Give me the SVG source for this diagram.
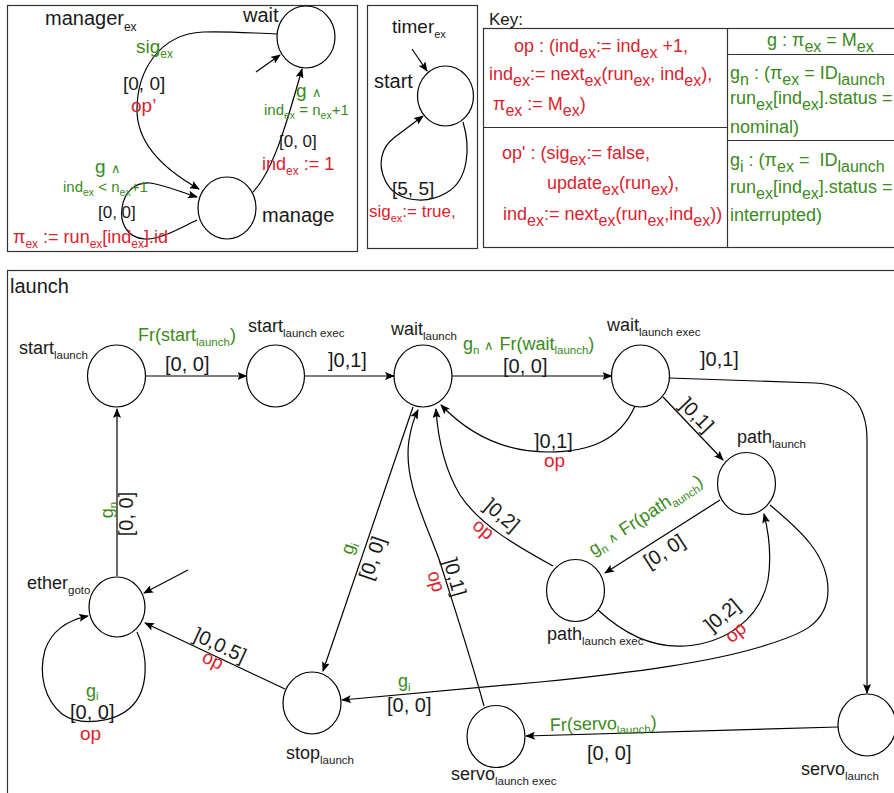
<svg xmlns="http://www.w3.org/2000/svg" width="894" height="793" viewBox="0 0 894 793">
<defs>
<style>
text{font-family:"Liberation Sans",Arial,Helvetica,sans-serif;fill:#1a1a1a}
.g{fill:#3b8a1c}
.r{fill:#d9232e}
.box{fill:none;stroke:#333;stroke-width:1.2}
.st{fill:#fff;stroke:#000;stroke-width:1.2}
.e{fill:none;stroke:#000;stroke-width:1.2}
.a{marker-end:url(#ah)}
</style>
<marker id="ah" viewBox="0 0 10 8" refX="9" refY="4" markerWidth="10" markerHeight="8" markerUnits="userSpaceOnUse" orient="auto"><path d="M0,0 L10,4 L0,8 L2,4 z" fill="#000"/></marker>
</defs>
<rect width="894" height="793" fill="#fff"/>

<!-- panels -->
<g id="panels">
<rect class="box" x="7.5" y="5.5" width="350" height="246"/>
<rect class="box" x="367.5" y="5.5" width="110" height="243"/>
<rect class="box" x="483.5" y="28.5" width="430" height="219"/>
<line class="box" x1="727.5" y1="28.5" x2="727.5" y2="247.5"/>
<line class="box" x1="483.5" y1="127.5" x2="727.5" y2="127.5"/>
<line class="box" x1="727.5" y1="54.5" x2="900" y2="54.5"/>
<line class="box" x1="727.5" y1="140.5" x2="900" y2="140.5"/>
<rect class="box" x="7.5" y="270.5" width="900" height="600"/>
</g>

<!-- manager_ex -->
<g id="manager-title"><text x="45" y="25" font-size="20">manager<tspan font-size="12" dy="6">ex</tspan></text></g>
<g id="m-wait"><ellipse class="st" cx="306" cy="37" rx="29" ry="31"/><text x="243" y="22" font-size="20">wait</text></g>
<g id="m-manage"><ellipse class="st" cx="227" cy="208" rx="29" ry="31"/><text x="262" y="222" font-size="20">manage</text></g>
<g id="m-edges">
<path class="e a" d="M277 34 C250 33 225 31 203 32 C160 34 137 70 137 110 C137 145 165 170 199 189"/>
<path class="e a" d="M253 192 C272 172 285 130 302 69"/>
<path class="e a" d="M197 220 C180 228 160 240 145 239 C125 238 120 220 122 208 C124 192 135 182 150 183 C165 185 180 192 197 197"/>
<path class="e a" d="M256 72 L280 55"/>
<text class="g" x="136" y="53" font-size="19">sig<tspan font-size="12" dy="5">ex</tspan></text>
<text x="123" y="90" font-size="19">[0, 0]</text>
<text class="r" x="131" y="112" font-size="19">op’</text>
<text class="g" x="296" y="97" font-size="19">g <tspan font-size="13">∧</tspan></text>
<text class="g" x="264" y="115" font-size="15">ind<tspan font-size="10.5" dy="4">ex</tspan><tspan dy="-4"> = n</tspan><tspan font-size="10.5" dy="4">ex</tspan><tspan dy="-4">+1</tspan></text>
<text x="279" y="147" font-size="17">[0, 0]</text>
<text class="r" x="262" y="170" font-size="18">ind<tspan font-size="12" dy="5">ex</tspan><tspan dy="-5"> := 1</tspan></text>
<text class="g" x="95" y="173" font-size="19">g <tspan font-size="13">∧</tspan></text>
<text class="g" x="63" y="192" font-size="15">ind<tspan font-size="10.5" dy="4">ex</tspan><tspan dy="-4"> &lt; n</tspan><tspan font-size="10.5" dy="4">ex</tspan><tspan dy="-4">+1</tspan></text>
<text x="98" y="218" font-size="17">[0, 0]</text>
<text class="r" x="13" y="243" font-size="18">π<tspan font-size="12" dy="5">ex</tspan><tspan dy="-5"> := run</tspan><tspan font-size="12" dy="5">ex</tspan><tspan dy="-5">[ind</tspan><tspan font-size="12" dy="5">ex</tspan><tspan dy="-5">].id</tspan></text>
</g>

<!-- timer_ex -->
<g id="timer-title"><text x="392" y="33" font-size="19">timer<tspan font-size="11" dy="5">ex</tspan></text></g>
<g id="t-start"><ellipse class="st" cx="445.5" cy="96" rx="28" ry="30"/><text x="374" y="88" font-size="20">start</text></g>
<g id="t-edges">
<path class="e a" d="M412 49 L427 71"/>
<path class="e a" d="M463 122 C470 145 470 180 446 193 C425 205 395 202 385 180 C378 165 380 148 395 137 L423 116"/>
<text x="392" y="195" font-size="19">[5, 5]</text>
<text class="r" x="369" y="217" font-size="17">sig<tspan font-size="11" dy="5">ex</tspan><tspan dy="-5">:= true,</tspan></text>
</g>

<!-- key -->
<g id="key">
<text x="489" y="25" font-size="17">Key:</text>
<text class="r" x="514" y="52" font-size="18">op : (ind<tspan font-size="16" dy="6">ex</tspan><tspan dy="-6">:= ind</tspan><tspan font-size="16" dy="6">ex</tspan><tspan dy="-6"> +1,</tspan></text>
<text class="r" x="489" y="80" font-size="18">ind<tspan font-size="16" dy="6">ex</tspan><tspan dy="-6">:= next</tspan><tspan font-size="16" dy="6">ex</tspan><tspan dy="-6">(run</tspan><tspan font-size="16" dy="6">ex</tspan><tspan dy="-6">, ind</tspan><tspan font-size="16" dy="6">ex</tspan><tspan dy="-6">),</tspan></text>
<text class="r" x="493" y="110" font-size="18">π<tspan font-size="16" dy="6">ex</tspan><tspan dy="-6"> := M</tspan><tspan font-size="16" dy="6">ex</tspan><tspan dy="-6">)</tspan></text>
<text class="r" x="502" y="159" font-size="18">op' : (sig<tspan font-size="16" dy="6">ex</tspan><tspan dy="-6">:= false,</tspan></text>
<text class="r" x="547" y="189" font-size="18">update<tspan font-size="16" dy="6">ex</tspan><tspan dy="-6">(run</tspan><tspan font-size="16" dy="6">ex</tspan><tspan dy="-6">),</tspan></text>
<text class="r" x="503" y="220" font-size="18">ind<tspan font-size="16" dy="6">ex</tspan><tspan dy="-6">:= next</tspan><tspan font-size="16" dy="6">ex</tspan><tspan dy="-6">(run</tspan><tspan font-size="16" dy="6">ex</tspan><tspan dy="-6">,ind</tspan><tspan font-size="16" dy="6">ex</tspan><tspan dy="-6">))</tspan></text>
<text class="g" x="767" y="46" font-size="18">g : π<tspan font-size="16" dy="6">ex</tspan><tspan dy="-6"> = M</tspan><tspan font-size="16" dy="6">ex</tspan></text>
<text class="g" x="730" y="79" font-size="18">g<tspan font-size="16" dy="6">n</tspan><tspan dy="-6"> : (π</tspan><tspan font-size="16" dy="6">ex</tspan><tspan dy="-6"> = ID</tspan><tspan font-size="16" dy="6">launch</tspan></text>
<text class="g" x="730" y="104" font-size="18">run<tspan font-size="16" dy="6">ex</tspan><tspan dy="-6">[ind</tspan><tspan font-size="16" dy="6">ex</tspan><tspan dy="-6">].status =</tspan></text>
<text class="g" x="730" y="133" font-size="18">nominal)</text>
<text class="g" x="730" y="166" font-size="18">g<tspan font-size="16" dy="6">i</tspan><tspan dy="-6"> : (π</tspan><tspan font-size="16" dy="6">ex</tspan><tspan dy="-6"> = &#160;ID</tspan><tspan font-size="16" dy="6">launch</tspan></text>
<text class="g" x="730" y="193" font-size="18">run<tspan font-size="16" dy="6">ex</tspan><tspan dy="-6">[ind</tspan><tspan font-size="16" dy="6">ex</tspan><tspan dy="-6">].status =</tspan></text>
<text class="g" x="730" y="221" font-size="18">interrupted)</text>
</g>

<!-- launch -->
<g id="launch-title"><text x="10" y="293" font-size="20">launch</text></g>

<g id="start_launch"><ellipse class="st" cx="116.5" cy="376" rx="29" ry="31"/><text x="19" y="354" font-size="18">start<tspan font-size="11.5" dy="5">launch</tspan></text></g>
<g id="start_launch_exec"><ellipse class="st" cx="275.5" cy="376" rx="29" ry="31"/><text x="248" y="332" font-size="18">start<tspan font-size="11.5" dy="5">launch exec</tspan></text></g>
<g id="wait_launch"><ellipse class="st" cx="423" cy="376" rx="29" ry="31"/><text x="391" y="335" font-size="18">wait<tspan font-size="11.5" dy="5">launch</tspan></text></g>
<g id="wait_launch_exec"><ellipse class="st" cx="640.5" cy="376" rx="29" ry="31"/><text x="607" y="331" font-size="18">wait<tspan font-size="11.5" dy="5">launch exec</tspan></text></g>
<g id="path_launch"><ellipse class="st" cx="746.5" cy="483.5" rx="29" ry="31"/><text x="737" y="443" font-size="18">path<tspan font-size="11.5" dy="5">launch</tspan></text></g>
<g id="path_launch_exec"><ellipse class="st" cx="575.5" cy="590.5" rx="29" ry="31"/><text x="547" y="640" font-size="18">path<tspan font-size="11.5" dy="5">launch exec</tspan></text></g>
<g id="servo_launch"><ellipse class="st" cx="867" cy="725" rx="29" ry="31"/><text x="801" y="775" font-size="18">servo<tspan font-size="11.5" dy="5">launch</tspan></text></g>
<g id="servo_launch_exec"><ellipse class="st" cx="496" cy="736.5" rx="29" ry="31"/><text x="451" y="780" font-size="18">servo<tspan font-size="11.5" dy="5">launch exec</tspan></text></g>
<g id="stop_launch"><ellipse class="st" cx="312" cy="703" rx="29" ry="31"/><text x="286" y="759" font-size="18">stop<tspan font-size="11.5" dy="5">launch</tspan></text></g>
<g id="ether_goto"><ellipse class="st" cx="117" cy="607" rx="28" ry="30"/><text x="27" y="589" font-size="18">ether<tspan font-size="11.5" dy="5">goto</tspan></text></g>

<g id="connectors">
<path class="e a" d="M145.5 376 L246.5 376"/>
<path class="e a" d="M304.5 376 L394 376"/>
<path class="e a" d="M452 376 L611.5 376"/>
<path class="e a" d="M635 406 C620 440 590 452 548 452 C500 452 465 430 441 405"/>
<path class="e a" d="M663 397 L723 460"/>
<path class="e a" d="M720 500 L605 573"/>
<path class="e a" d="M598 610 C625 635 655 648 685 646 C725 643 760 620 768 580 C772 555 768 530 764 514"/>
<path class="e a" d="M413 407 L323 671"/>
<path class="e a" d="M484 706 C470 655 455 610 440 562 C425 520 403 480 409 440 C411 428 414 418 418 410"/>
<path class="e a" d="M553 566 C515 545 480 525 460 495 C445 470 438 440 436 409"/>
<path class="e a" d="M669 378 L815 383 C850 385 867 405 867 440 L867 693"/>
<path class="e a" d="M770 505 C800 530 828 555 828 590 C828 625 800 635 760 647 C710 662 640 672 540 682 L342 700"/>
<path class="e a" d="M838 727 L526 736"/>
<path class="e a" d="M285 689 L145 623"/>
<path class="e a" d="M117 576 L117 409"/>
<path class="e a" d="M137 632 C148 655 150 690 130 708 C115 722 80 727 62 714 C45 700 38 675 45 650 C52 630 68 620 88 616"/>
<path class="e a" d="M188 570 L144 593"/>
</g>

<g id="edge-labels">
<text class="g" x="138" y="341" font-size="18">Fr(start<tspan font-size="11.5" dy="5">launch</tspan><tspan dy="-5">)</tspan></text>
<text x="165" y="371" font-size="20">[0, 0]</text>
<text x="328" y="367" font-size="20">]0,1]</text>
<text class="g" x="463" y="350" font-size="18">g<tspan font-size="11.5" dy="4">n</tspan><tspan dy="-4"> </tspan><tspan font-size="13">∧</tspan> Fr(wait<tspan font-size="11.5" dy="4">launch</tspan><tspan dy="-4">)</tspan></text>
<text x="503" y="373" font-size="20">[0, 0]</text>
<text x="534" y="448" font-size="20">]0,1]</text>
<text class="r" x="544" y="467" font-size="19">op</text>
<text x="700" y="366" font-size="20">]0,1]</text>
<text transform="translate(697,415) rotate(46)" text-anchor="middle" y="7" font-size="20">]0,1]</text>
<text class="g" transform="translate(646,516) rotate(-33)" text-anchor="middle" y="5" font-size="18">g<tspan font-size="11.5" dy="4">n</tspan><tspan dy="-4"> </tspan><tspan font-size="13">∧</tspan> Fr(path<tspan font-size="11.5" dy="4">aunch</tspan><tspan dy="-4">)</tspan></text>
<text transform="translate(664,551) rotate(-33)" text-anchor="middle" y="7" font-size="20">[0, 0]</text>
<text transform="translate(722,615) rotate(-40)" text-anchor="middle" y="7" font-size="20">]0,2]</text>
<text class="r" transform="translate(737,634) rotate(-40)" text-anchor="middle" y="4" font-size="19">op</text>
<text class="g" transform="translate(349,548) rotate(-71)" text-anchor="middle" y="5" font-size="18">g<tspan font-size="11.5" dy="4">i</tspan></text>
<text transform="translate(372,558) rotate(-71)" text-anchor="middle" y="7" font-size="20">[0, 0]</text>
<text transform="translate(455,577) rotate(74)" text-anchor="middle" y="7" font-size="20">]0,1]</text>
<text class="r" transform="translate(434,582) rotate(74)" text-anchor="middle" y="4" font-size="19">op</text>
<text transform="translate(502,515) rotate(40)" text-anchor="middle" y="7" font-size="20">]0,2]</text>
<text class="r" transform="translate(482,531) rotate(40)" text-anchor="middle" y="4" font-size="19">op</text>
<text class="g" x="398" y="687" font-size="18">g<tspan font-size="11.5" dy="4">i</tspan></text>
<text x="387" y="712" font-size="20">[0, 0]</text>
<text class="g" transform="translate(550,731) rotate(-1.6)" font-size="18">Fr(servo<tspan font-size="11.5" dy="5">launch</tspan><tspan dy="-5">)</tspan></text>
<text x="587" y="760" font-size="20">[0, 0]</text>
<text transform="translate(220,645) rotate(25)" text-anchor="middle" y="7" font-size="20">]0,0.5]</text>
<text class="r" transform="translate(212,662) rotate(25)" text-anchor="middle" y="4" font-size="19">op</text>
<text class="g" transform="translate(108,510) rotate(-90)" text-anchor="middle" y="5" font-size="18">g<tspan font-size="11.5" dy="4">n</tspan></text>
<text transform="translate(126,514) rotate(-90)" text-anchor="middle" y="7" font-size="20">[0, 0]</text>
<text class="g" x="86" y="697" font-size="18">g<tspan font-size="11.5" dy="3">i</tspan></text>
<text x="70" y="719" font-size="20">[0, 0]</text>
<text class="r" x="80" y="740" font-size="19">op</text>
</g>
</svg>
